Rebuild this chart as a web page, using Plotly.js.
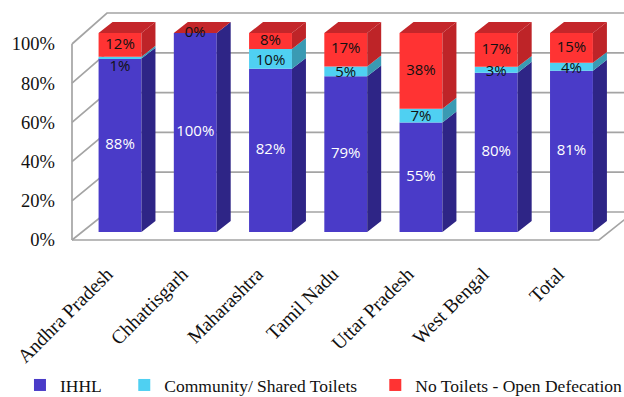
<!DOCTYPE html>
<html>
<head>
<meta charset="utf-8">
<script src="https://cdn.plot.ly/plotly-3.0.1.min.js"></script>
<style>html,body{margin:0;padding:0;background:#fff;}#chart{width:624px;height:397px;}</style>
</head>
<body>
<div id="chart"></div>
<script>
// ---- data ----
const categories = ['Andhra Pradesh', 'Chhattisgarh', 'Maharashtra', 'Tamil Nadu', 'Uttar Pradesh', 'West Bengal', 'Total'];
const ihhl = [88, 100, 82, 79, 55, 80, 81];
const community = [1, 0, 10, 5, 7, 3, 4];
const noToilets = [12, 0, 8, 17, 38, 17, 15];
const seriesNames = ['IHHL', 'Community/ Shared Toilets', 'No Toilets - Open Defecation'];
const yTickVals = [0, 20, 40, 60, 80, 100];
const yTickText = ['0%', '20%', '40%', '60%', '80%', '100%'];

// ---- styles ----
const frontColors = ['#4A3BC8', '#4FD0F2', '#FF3333'];
const sideColors = ['#2E2586', '#3A9AB3', '#BE2428'];
const topColor = '#C4262A';
const labelColors = ['#FFFFFF', '#111111', '#111111'];
const gridColor = '#A4A4A4';
const serif = 'Liberation Serif, Times New Roman, serif';
const sans = 'Open Sans, Liberation Sans, sans-serif';
const legendPads = ['\u00a0\u00a0\u00a0\u00a0', '\u00a0\u00a0\u00a0', ''];

const series = [ihhl, community, noToilets];
const idx = categories.map((c, i) => i);
const totals = idx.map(i => series.reduce((s, arr) => s + arr[i], 0));
const norm = series.map(arr => arr.map((v, i) => v * 100 / totals[i]));
const bases = series.map((arr, s) => idx.map(i => {
  let b = 0; for (let k = 0; k < s; k++) b += norm[k][i]; return b;
}));

// 3D geometry (bar subplot units)
const W = 0.57;          // bar width in category units
const DX = 0.186;        // depth offset x (category units)
const DY = 5.5;          // depth offset y (percent units)

const traces = [];

// ---- frame (walls / floor) in pixel space on x/y ----
const frontY = v => 240 - 1.96 * v;
const backY = v => 212 - 1.99 * v;
const fx = [], fy = [];
yTickVals.forEach(v => {
  fx.push(72, 107, 640, null); fy.push(frontY(v), backY(v), backY(v), null);
});
fx.push(72, 72, null); fy.push(frontY(0), frontY(100), null);
fx.push(72, 599, 634, null); fy.push(frontY(0), frontY(0), backY(0), null);
traces.push({type: 'scatter', mode: 'lines', x: fx, y: fy, xaxis: 'x', yaxis: 'y',
  line: {color: gridColor, width: 1.7}, hoverinfo: 'skip', showlegend: false});

// ---- front faces: bars ----
series.forEach((arr, s) => {
  traces.push({type: 'bar', name: seriesNames[s] + legendPads[s], x: idx, y: norm[s], base: bases[s],
    width: W, xaxis: 'x2', yaxis: 'y2', marker: {color: frontColors[s], line: {width: 0}},
    hovertemplate: '%{customdata}%<extra>' + seriesNames[s] + '</extra>', customdata: arr,
    showlegend: true});
});

// ---- side faces ----
series.forEach((arr, s) => {
  const px = [], py = [];
  idx.forEach(i => {
    const y0 = bases[s][i], y1 = bases[s][i] + norm[s][i];
    if (norm[s][i] <= 0) return;
    const xr = i + W / 2;
    px.push(xr, xr + DX, xr + DX, xr, xr, null);
    py.push(y0, y0 + DY, y1 + DY, y1, y0, null);
  });
  traces.push({type: 'scatter', mode: 'lines', x: px, y: py, xaxis: 'x2', yaxis: 'y2',
    fill: 'toself', fillcolor: sideColors[s], line: {width: 0, color: sideColors[s]},
    hoverinfo: 'skip', showlegend: false});
});

// ---- top faces ----
{
  const px = [], py = [];
  idx.forEach(i => {
    const yt = bases[2][i] + norm[2][i];
    const xl = i - W / 2, xr = i + W / 2;
    px.push(xl, xr, xr + DX, xl + DX, xl, null);
    py.push(yt, yt, yt + DY, yt + DY, yt, null);
  });
  traces.push({type: 'scatter', mode: 'lines', x: px, y: py, xaxis: 'x2', yaxis: 'y2',
    fill: 'toself', fillcolor: topColor, line: {width: 0, color: topColor},
    hoverinfo: 'skip', showlegend: false});
}

// ---- data labels ----
series.forEach((arr, s) => {
  const lx = [], ly = [], lt = [];
  idx.forEach(i => {
    if (arr[i] === 0 && s !== 2) return;
    let y = bases[s][i] + norm[s][i] / 2;
    if (s === 1 && norm[s][i] < 2) y -= 5;      // tiny slice: label sits just below
    else if (s === 1) y -= 1;
    lx.push(i); ly.push(y); lt.push(arr[i] + '%');
  });
  traces.push({type: 'scatter', mode: 'text', x: lx, y: ly, text: lt, xaxis: 'x2', yaxis: 'y2',
    textfont: {family: sans, size: 15, color: labelColors[s]}, textposition: 'middle center',
    hoverinfo: 'skip', showlegend: false, cliponaxis: false});
});

// ---- y tick axis carrier ----
traces.push({type: 'scatter', mode: 'markers', x: [null], y: [null], xaxis: 'x3', yaxis: 'y3',
  hoverinfo: 'skip', showlegend: false});

const layout = {
  width: 624, height: 397,
  margin: {l: 0, r: 0, t: 0, b: 0, autoexpand: false},
  paper_bgcolor: '#FFFFFF', plot_bgcolor: 'rgba(0,0,0,0)',
  barmode: 'overlay',
  showlegend: true,
  legend: {orientation: 'h', x: 0.032, y: 0.03, xanchor: 'left', yanchor: 'middle',
    font: {family: serif, size: 17.5, color: '#111'}, traceorder: 'normal', bgcolor: 'rgba(0,0,0,0)'},
  xaxis: {domain: [0, 1], range: [0, 624], visible: false, fixedrange: true},
  yaxis: {domain: [0, 1], range: [397, 0], visible: false, fixedrange: true},
  xaxis2: {domain: [82.4 / 624, 609.1 / 624], range: [-0.5, 6.5], anchor: 'y2',
    tickmode: 'array', tickvals: idx, ticktext: categories, tickangle: -45,
    tickfont: {family: serif, size: 19.5, color: '#111'},
    ticklabelstandoff: 18, ticklabelshift: -13, automargin: false,
    showgrid: false, zeroline: false, showline: false, ticks: '', fixedrange: true},
  yaxis2: {domain: [1 - 240 / 397, 1 - 13.1 / 397], range: [-4, 110], anchor: 'x2',
    visible: false, fixedrange: true},
  xaxis3: {domain: [56 / 624, 58 / 624], range: [0, 1], anchor: 'y3', visible: false, fixedrange: true},
  yaxis3: {domain: [1 - 240 / 397, 1 - 44 / 397], range: [0, 100], anchor: 'x3', automargin: false,
    tickmode: 'array', tickvals: yTickVals, ticktext: yTickText,
    tickfont: {family: serif, size: 18.5, color: '#111'},
    showgrid: false, zeroline: false, showline: false, ticks: '', fixedrange: true}
};

Plotly.newPlot('chart', traces, layout, {displayModeBar: false, staticPlot: false});
</script>
</body>
</html>
